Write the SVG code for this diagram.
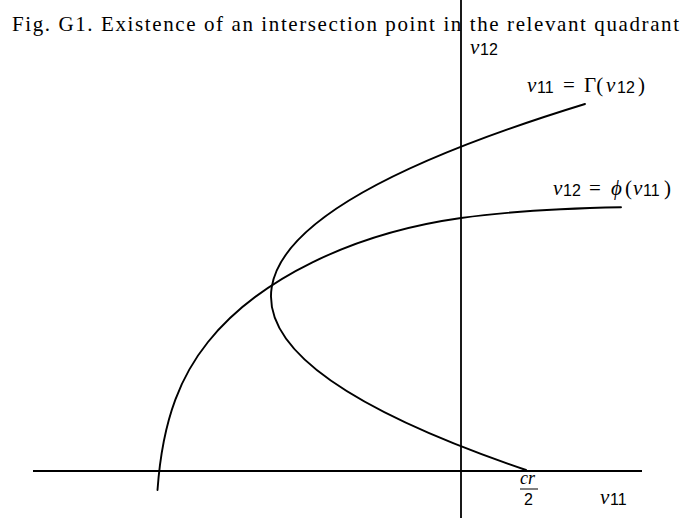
<svg xmlns="http://www.w3.org/2000/svg" width="685" height="521" viewBox="0 0 685 521">
<style>
.ax{stroke:#000;stroke-width:1.8;fill:none}
.cv{stroke:#000;stroke-width:1.9;fill:none;stroke-linecap:round}
.t{font-family:"Liberation Serif",serif;font-size:21px;fill:#000}
.m{font-family:"Liberation Serif",serif;font-size:21px;fill:#000}
.i{font-style:italic}
.s{font-family:"Liberation Sans","DejaVu Sans",sans-serif;font-size:16px;font-style:normal}
</style>
<rect width="685" height="521" fill="#fff"/>
<text class="t" x="12" y="31" textLength="667" lengthAdjust="spacing">Fig. G1. Existence of an intersection point in the relevant quadrant</text>
<g id="curves">
<path id="gamma" class="cv" d="M585,104 Q-12,287 526,470"/>
<path id="phi" class="cv" d="M157.5,490 C162.8,415 183,373.2 208,342 C258,279.6 352.1,233.3 461,218 C516,210.3 571,208.3 621,207.3"/>
</g>
<g id="axes">
<line class="ax" x1="461" y1="0" x2="461" y2="518"/>
<line class="ax" x1="33" y1="471" x2="642" y2="471"/>
</g>
<g id="labels">
<text class="m" y="54"><tspan class="i" x="470">v</tspan><tspan class="s" x="480" dy="1">12</tspan></text>
<text class="m" y="92"><tspan class="i" x="527">v</tspan><tspan class="s" x="537" dy="1">11</tspan><tspan x="563" dy="-1">=</tspan><tspan x="584">Γ(</tspan><tspan class="i" x="606">v</tspan><tspan class="s" x="617" dy="1">12</tspan><tspan x="638" dy="-1">)</tspan></text>
<text class="m" y="195"><tspan class="i" x="553">v</tspan><tspan class="s" x="563" dy="1">12</tspan><tspan x="589" dy="-1">=</tspan><tspan class="i" x="611">ϕ</tspan><tspan x="625">(</tspan><tspan class="i" x="633">v</tspan><tspan class="s" x="643" dy="1">11</tspan><tspan x="664" dy="-1">)</tspan></text>
<text class="m i" x="520" y="484" style="font-size:18px">cr</text>
<line x1="520" y1="489" x2="538" y2="489" stroke="#000" stroke-width="1"/>
<text class="s" x="524" y="505">2</text>
<text class="m" y="504"><tspan class="i" x="600">v</tspan><tspan class="s" x="610" dy="1">11</tspan></text>
</g>
</svg>
